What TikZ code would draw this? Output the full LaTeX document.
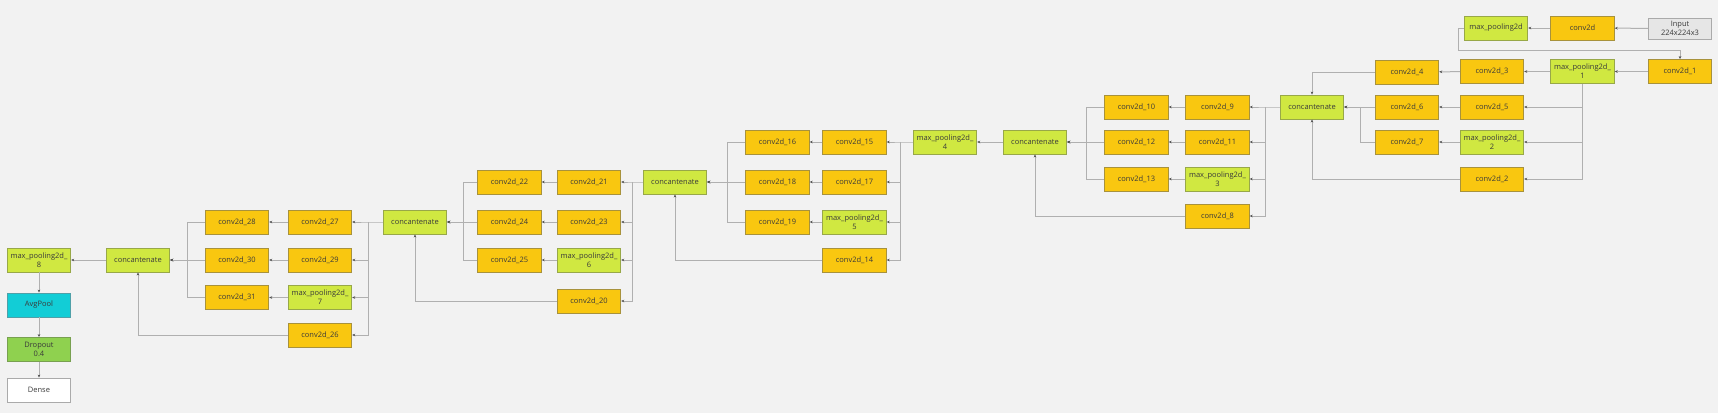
\documentclass[tikz,border=0pt]{standalone}
\usepackage{fontspec}
\setmainfont{Open Sans}
\usetikzlibrary{arrows.meta}
\definecolor{bg}{HTML}{F2F2F2}
\definecolor{convfill}{HTML}{F9C710}
\definecolor{convdraw}{HTML}{A8923C}
\definecolor{poolfill}{HTML}{D0E841}
\definecolor{pooldraw}{HTML}{98A848}
\definecolor{cyanfill}{HTML}{12CDD6}
\definecolor{cyandraw}{HTML}{4FA0A8}
\definecolor{dropfill}{HTML}{8FD14F}
\definecolor{dropdraw}{HTML}{78A050}
\definecolor{inputfill}{HTML}{E6E6E6}
\definecolor{greydraw}{HTML}{AAAAAA}
\definecolor{txt}{HTML}{3A3A3A}
\definecolor{linec}{HTML}{B0B0B0}
\definecolor{arrowc}{HTML}{505050}
\newcommand{\boxfont}{\fontsize{7.5}{9}\selectfont}
\tikzset{
  box/.style={draw, line width=0.9pt, minimum width=63.5pt, minimum height=24pt,
    inner sep=0pt, align=center, font=\boxfont, text=txt},
  conv/.style={box, fill=convfill, draw=convdraw},
  pool/.style={box, fill=poolfill, draw=pooldraw},
  link/.style={draw=linec, line width=1pt, rounded corners=0pt,
    -{Stealth[length=3pt, width=2.6pt, color=arrowc]}},
}
\begin{document}
\begin{tikzpicture}[x=1pt, y=-1pt]
\useasboundingbox (0,0) rectangle (1718,413);
\fill[bg] (0,0) rectangle (1718,413);
% ---- top rows
\node[box, fill=inputfill, draw=greydraw, minimum height=21pt] (input) at (1680,28.5) {Input\\224x224x3};
\node[conv] (c0) at (1582.5,28) {conv2d};
\node[pool] (mp0) at (1496,28) {max\_pooling2d};
\node[conv] (c1) at (1680,71.5) {conv2d\_1};
\node[pool] (mp1) at (1582.5,71.5) {max\_pooling2d\_\\1};
\node[conv] (c3) at (1492,71.5) {conv2d\_3};
\node[conv] (c4) at (1407,72) {conv2d\_4};
\node[pool] (cat1) at (1312,107) {concantenate};
\node[conv] (c6) at (1407,107) {conv2d\_6};
\node[conv] (c5) at (1492,107) {conv2d\_5};
\node[conv] (c7) at (1407,142) {conv2d\_7};
\node[pool] (mp2) at (1492,142) {max\_pooling2d\_\\2};
\node[conv] (c2) at (1492,179) {conv2d\_2};
% ---- block 2
\node[conv] (c10) at (1136.5,107) {conv2d\_10};
\node[conv] (c9) at (1217.5,107) {conv2d\_9};
\node[conv] (c12) at (1136.5,142) {conv2d\_12};
\node[conv] (c11) at (1217.5,142) {conv2d\_11};
\node[conv] (c13) at (1136.5,179) {conv2d\_13};
\node[pool] (mp3) at (1217.5,179) {max\_pooling2d\_\\3};
\node[conv] (c8) at (1217.5,216) {conv2d\_8};
\node[pool] (cat2) at (1035,142) {concantenate};
\node[pool] (mp4) at (945,142) {max\_pooling2d\_\\4};
% ---- block 3
\node[conv] (c16) at (777.5,142) {conv2d\_16};
\node[conv] (c15) at (854.5,142) {conv2d\_15};
\node[conv] (c18) at (777.5,182) {conv2d\_18};
\node[conv] (c17) at (854.5,182) {conv2d\_17};
\node[conv] (c19) at (777.5,222) {conv2d\_19};
\node[pool] (mp5) at (854.5,222) {max\_pooling2d\_\\5};
\node[conv] (c14) at (854.5,260) {conv2d\_14};
\node[pool] (cat3) at (675,182) {concantenate};
% ---- block 4
\node[conv] (c22) at (509.5,182) {conv2d\_22};
\node[conv] (c21) at (589,182) {conv2d\_21};
\node[conv] (c24) at (509.5,222) {conv2d\_24};
\node[conv] (c23) at (589,222) {conv2d\_23};
\node[conv] (c25) at (509.5,260) {conv2d\_25};
\node[pool] (mp6) at (589,260) {max\_pooling2d\_\\6};
\node[conv] (c20) at (589,301) {conv2d\_20};
\node[pool] (cat4) at (415,222) {concantenate};
% ---- block 5
\node[conv] (c28) at (237,222) {conv2d\_28};
\node[conv] (c27) at (320,222) {conv2d\_27};
\node[conv] (c30) at (237,260) {conv2d\_30};
\node[conv] (c29) at (320,260) {conv2d\_29};
\node[conv] (c31) at (237,297.5) {conv2d\_31};
\node[pool] (mp7) at (320,297.5) {max\_pooling2d\_\\7};
\node[conv] (c26) at (320,335) {conv2d\_26};
\node[pool] (cat5) at (138,260) {concantenate};
% ---- head
\node[pool] (mp8) at (39,260) {max\_pooling2d\_\\8};
\node[box, fill=cyanfill, draw=cyandraw] (avg) at (39,305) {AvgPool};
\node[box, fill=dropfill, draw=dropdraw] (drop) at (39,349.5) {Dropout\\0.4};
\node[box, fill=white, draw=greydraw] (dense) at (39,390) {Dense};
% ---- junction coordinates
\coordinate (t0) at (1458,28);
\coordinate (t1) at (1458,50);
\coordinate (t2) at (1680,50);
\coordinate (j7) at (1360,142);
\coordinate (j7b) at (1360,107);
\coordinate (s1) at (1265,107);
\coordinate (m1) at (1086,107);
\coordinate (m2) at (1086,179);
\coordinate (m0) at (1086,142);
\coordinate (s2) at (900,142);
\coordinate (n1) at (727,142);
\coordinate (n2) at (727,222);
\coordinate (n0) at (727,182);
\coordinate (s3) at (632,182);
\coordinate (p1) at (463,182);
\coordinate (p2) at (463,260);
\coordinate (p0) at (463,222);
\coordinate (s4) at (368,222);
\coordinate (q1) at (187,222);
\coordinate (q2) at (187,297.5);
\coordinate (q0) at (187,260);
% ---- connectors
\path[link] (input) -- (c0);
\path[link] (c0) -- (mp0);
\path[link] (mp0.west) -- (t0) -- (t1) -- (t2) -- (c1.north);
\path[link] (c1) -- (mp1);
\path[link] (mp1) -- (c3);
\path[link] (c3) -- (c4);
\path[link] (c4.west) -| (cat1.north);
\path[link] (mp1.south) |- (c5.east);
\path[link] (mp1.south) |- (mp2.east);
\path[link] (mp1.south) |- (c2.east);
\path[link] (c5) -- (c6);
\path[link] (mp2) -- (c7);
\path[link] (c6) -- (cat1);
\path[link] (c7.west) -- (j7) -- (j7b) -- (cat1.east);
\path[link] (c2.west) -| (cat1.south);
% block 2
\path[link] (cat1.west) -- (s1) -- (c9.east);
\path[link] (s1) |- (c11.east);
\path[link] (s1) |- (mp3.east);
\path[link] (s1) |- (c8.east);
\path[link] (c9) -- (c10);
\path[link] (c11) -- (c12);
\path[link] (mp3) -- (c13);
\path[link] (c10.west) -- (m1) -- (m0) -- (cat2.east);
\path[link] (c12) -- (cat2);
\path[link] (c13.west) -- (m2) -- (m0) -- (cat2.east);
\path[link] (c8.west) -| (cat2.south);
\path[link] (cat2) -- (mp4);
% block 3
\path[link] (mp4.west) -- (s2) -- (c15.east);
\path[link] (s2) |- (c17.east);
\path[link] (s2) |- (mp5.east);
\path[link] (s2) |- (c14.east);
\path[link] (c15) -- (c16);
\path[link] (c17) -- (c18);
\path[link] (mp5) -- (c19);
\path[link] (c16.west) -- (n1) -- (n0) -- (cat3.east);
\path[link] (c18) -- (cat3);
\path[link] (c19.west) -- (n2) -- (n0) -- (cat3.east);
\path[link] (c14.west) -| (cat3.south);
% block 4
\path[link] (cat3.west) -- (s3) -- (c21.east);
\path[link] (s3) |- (c23.east);
\path[link] (s3) |- (mp6.east);
\path[link] (s3) |- (c20.east);
\path[link] (c21) -- (c22);
\path[link] (c23) -- (c24);
\path[link] (mp6) -- (c25);
\path[link] (c22.west) -- (p1) -- (p0) -- (cat4.east);
\path[link] (c24) -- (cat4);
\path[link] (c25.west) -- (p2) -- (p0) -- (cat4.east);
\path[link] (c20.west) -| (cat4.south);
% block 5
\path[link] (cat4.west) -- (s4) -- (c27.east);
\path[link] (s4) |- (c29.east);
\path[link] (s4) |- (mp7.east);
\path[link] (s4) |- (c26.east);
\path[link] (c27) -- (c28);
\path[link] (c29) -- (c30);
\path[link] (mp7) -- (c31);
\path[link] (c28.west) -- (q1) -- (q0) -- (cat5.east);
\path[link] (c30) -- (cat5);
\path[link] (c31.west) -- (q2) -- (q0) -- (cat5.east);
\path[link] (c26.west) -| (cat5.south);
% head
\path[link] (cat5) -- (mp8);
\path[link] (mp8) -- (avg);
\path[link] (avg) -- (drop);
\path[link] (drop) -- (dense);
\end{tikzpicture}
\end{document}
